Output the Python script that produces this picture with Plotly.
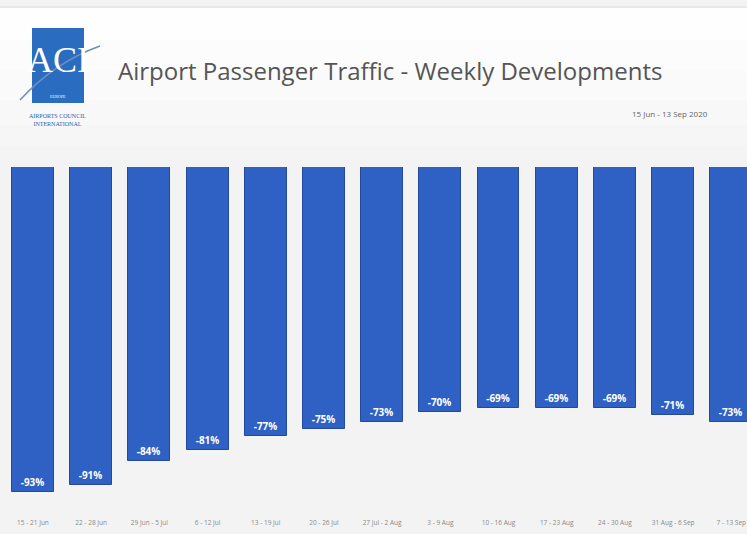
import plotly.graph_objects as go

weeks = ["15 - 21 Jun", "22 - 28 Jun", "29 Jun - 5 Jul", "6 - 12 Jul", "13 - 19 Jul",
         "20 - 26 Jul", "27 Jul - 2 Aug", "3 - 9 Aug", "10 - 16 Aug", "17 - 23 Aug",
         "24 - 30 Aug", "31 Aug - 6 Sep", "7 - 13 Sep"]
change_pct = [-93, -91, -84, -81, -77, -75, -73, -70, -69, -69, -69, -71, -73]

W, H = 747, 534
TOP, BOT = 167, 506  # plot area in pixels


def px(x):
    return x / W


def py(y):
    return (BOT - y) / (BOT - TOP)


BAR = "#2f60c3"

fig = go.Figure()
fig.add_trace(go.Bar(
    x=list(range(len(weeks))),
    y=change_pct,
    marker=dict(color=BAR, line=dict(color="#24499a", width=1)),
    width=0.72,
    text=[f"<b>{v}%</b>" for v in change_pct],
    textposition="inside",
    insidetextanchor="end",
    textfont=dict(color="white", size=10, family="Open Sans"),
    constraintext="none",
    hoverinfo="skip",
))

# soft vertical gradient for the header area
shapes = []
grad = ["#fefefe", "#fcfcfc", "#fafafa", "#f8f8f8", "#f6f6f6", "#f4f4f4"]
y_edges = [8, 40, 70, 100, 125, 145, 160]
for i, c in enumerate(grad):
    shapes.append(dict(type="rect", xref="paper", yref="paper", x0=0, x1=1,
                       y0=py(y_edges[i + 1]), y1=py(y_edges[i]),
                       fillcolor=c, line=dict(width=0), layer="below"))
shapes += [
    dict(type="line", xref="paper", yref="paper", x0=0, x1=1, y0=py(7), y1=py(7),
         line=dict(color="#dcdcdc", width=1)),
    # logo
    dict(type="rect", xref="paper", yref="paper", x0=px(32), x1=px(84), y0=py(103), y1=py(28),
         fillcolor="#2a6cc0", line=dict(width=0)),
    dict(type="path", xref="paper", yref="paper",
         path=f"M {px(20)},{py(100)} Q {px(55)},{py(62)} {px(100)},{py(46)}",
         line=dict(color="#6f8fb8", width=1.5)),
]

annotations = [
    dict(text="ACI", x=px(58), y=py(60), xref="paper", yref="paper", showarrow=False,
         font=dict(family="Liberation Serif", size=36, color="white"), xanchor="center", yanchor="middle"),
    dict(text="EUROPE", x=px(58), y=py(97), xref="paper", yref="paper", showarrow=False,
         font=dict(family="Liberation Serif", size=4, color="white"), xanchor="center", yanchor="middle"),
    dict(text="AIRPORTS COUNCIL<br>INTERNATIONAL", x=px(58), y=py(120), xref="paper", yref="paper",
         showarrow=False, align="center",
         font=dict(family="Liberation Serif", size=6, color="#2a5fae"), xanchor="center", yanchor="middle"),
    dict(text="Airport Passenger Traffic - Weekly Developments", x=px(116), y=py(70),
         xref="paper", yref="paper", showarrow=False, xanchor="left", yanchor="middle",
         font=dict(family="Open Sans", size=24, color="#555555")),
    dict(text="15 Jun - 13 Sep 2020", x=px(710), y=py(113), xref="paper", yref="paper",
         showarrow=False, xanchor="right", yanchor="middle",
         font=dict(family="Open Sans", size=8, color="#666666")),
]

fig.update_layout(
    width=W, height=H,
    margin=dict(l=0, r=0, t=TOP, b=H - BOT, pad=0),
    paper_bgcolor="#f3f3f3",
    plot_bgcolor="rgba(0,0,0,0)",
    showlegend=False,
    bargap=0,
    shapes=shapes,
    annotations=annotations,
    xaxis=dict(
        range=[-0.567, 12.27],
        tickmode="array",
        tickvals=list(range(len(weeks))),
        ticktext=weeks,
        tickangle=0,
        ticklabeloverflow="allow",
        showgrid=False, zeroline=False, showline=False,
        ticks="outside", ticklen=10, tickcolor="rgba(0,0,0,0)",
        tickfont=dict(family="Open Sans", size=6.5, color="#8a8a8a"),
        fixedrange=True,
    ),
    yaxis=dict(
        range=[-97, 0],
        visible=False,
        fixedrange=True,
    ),
)

fig.write_html("out.html", config={"displayModeBar": False},
               post_script="document.body.style.margin='0';document.body.style.overflow='hidden';")
